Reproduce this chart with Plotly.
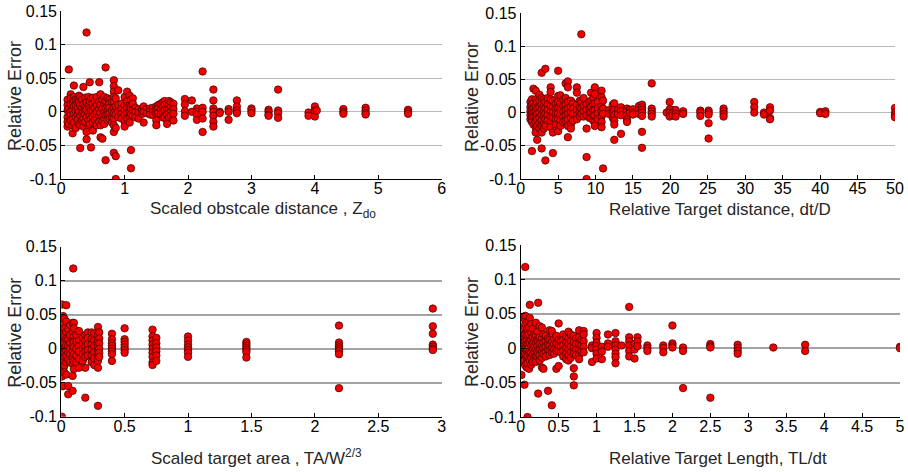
import plotly.graph_objects as go

# Panel 1: scaled obstacle distance Zdo -> relative error (values read per x column)
zdo_x = [0.10, 0.12, 0.15, 0.18, 0.20, 0.23, 0.26, 0.28, 0.30, 0.33, 0.35, 0.38, 0.40, 0.43, 0.45,
         0.47, 0.50, 0.53, 0.56, 0.60, 0.62, 0.65, 0.68, 0.70, 0.73, 0.76, 0.80, 0.83, 0.86, 0.90,
         0.95, 1.00, 1.04, 1.08, 1.10, 1.13, 1.17, 1.22, 1.28, 1.30, 1.35, 1.40, 1.45, 1.50, 1.53,
         1.57, 1.60, 1.63, 1.67, 1.70, 1.73, 1.77, 1.95, 2.06, 2.14, 2.23, 2.40, 2.50, 2.64, 2.77,
         3.00, 3.27, 3.42, 3.90, 4.00, 4.03, 4.45, 4.80, 5.47]
zdo_err = [[0.018, 0.010, 0.002, -0.008, -0.015, -0.022], [0.063, 0.005, -0.018],
           [0.026, 0.020, 0.012, 0.0, -0.005, -0.012], [0.015, 0.004, -0.010, -0.020, -0.032],
           [0.039, 0.022, 0.016, 0.008, -0.003, -0.016], [0.018, 0.010, 0.001, -0.008, -0.024],
           [0.020, 0.013, 0.005, -0.004, -0.012], [0.024, 0.015, 0.0, -0.018],
           [0.022, 0.010, -0.006, -0.020, -0.054], [0.018, 0.006, -0.002, -0.012],
           [0.037, 0.011, 0.0, -0.010, -0.022], [0.021, 0.008, 0.002, -0.004, -0.015],
           [0.118, 0.014, 0.003, -0.008, -0.030, -0.041], [0.022, 0.010, -0.002, -0.012, -0.020],
           [0.044, 0.016, 0.005, -0.006, -0.018], [0.020, 0.002, -0.010, -0.053],
           [0.021, 0.012, 0.001, -0.007, -0.016, -0.028], [0.016, 0.006, -0.004, -0.012],
           [0.022, 0.010, -0.001, -0.009, -0.020], [0.044, 0.015, 0.004, -0.006, -0.015],
           [0.026, 0.010, -0.002, -0.020, -0.038], [0.019, 0.005, -0.008, -0.014, -0.040],
           [0.022, 0.012, 0.0, -0.010, -0.018], [0.066, 0.016, 0.006, -0.005, -0.072],
           [0.020, 0.008, -0.004, -0.012], [0.018, 0.012, 0.006, -0.003, -0.010],
           [0.015, 0.002, -0.008, -0.016],
           [0.047, 0.038, 0.030, 0.022, 0.014, 0.006, -0.002, -0.010, -0.020, -0.030, -0.061],
           [0.020, 0.008, -0.004, -0.024, -0.066, -0.100], [0.032, 0.010, 0.0, -0.008],
           [0.012, 0.004, -0.003, -0.010], [0.022, 0.009, 0.002, -0.005, -0.014, -0.022],
           [0.030, 0.016, 0.006, -0.002, -0.010], [0.024, 0.010, 0.0, -0.007, -0.016],
           [0.018, 0.008, 0.004, -0.004, -0.057, -0.084], [0.020, 0.012, 0.002, -0.006],
           [0.006, 0.0, -0.008], [0.004, -0.002, -0.010], [0.005, 0.002, -0.003],
           [0.008, 0.0, -0.016], [0.004, -0.002], [0.005, 0.001, -0.004], [0.006, 0.0, -0.005],
           [0.008, 0.003, -0.003, -0.013, -0.020], [0.010, 0.005, -0.002], [0.012, 0.004, -0.004],
           [0.014, 0.007, 0.0, -0.008], [0.016, 0.010, 0.002, -0.006, -0.009],
           [0.012, 0.004, -0.003, -0.012, -0.018], [0.016, 0.010, 0.004, -0.002, -0.008],
           [0.014, 0.006, 0.0, -0.006], [0.012, 0.004, -0.003, -0.013],
           [0.019, 0.011, 0.001, -0.006], [0.017, 0.0], [0.005, 0.0, -0.004, -0.012],
           [0.060, 0.006, 0.0, -0.010, -0.030], [0.033, 0.017, 0.005, 0.0, -0.006, -0.015, -0.022],
           [0.0, -0.002], [0.004, 0.0, -0.012], [0.017, 0.008, 0.002, -0.002],
           [0.005, 0.002, -0.002], [0.003, 0.0, -0.004, -0.006], [0.033, 0.002, -0.002, -0.009],
           [-0.001, -0.006], [0.008, 0.002, 0.0, -0.007], [0.002], [0.004, 0.0, -0.003],
           [0.006, 0.002, -0.002, -0.004], [0.003, 0.0, -0.003]]

# Panel 2: relative target distance dt/D
dtd_x = [1.3, 1.5, 1.7, 2.0, 2.2, 2.5, 2.8, 3.1, 3.3, 3.6, 4.0, 4.3, 4.7, 5.0, 5.3, 5.7, 6.0, 6.3,
         6.7, 7.0, 7.5, 7.9, 8.1, 8.4, 8.8, 9.2, 9.4, 9.7, 9.9, 10.3, 10.8, 11.0, 11.8, 12.3, 12.5,
         13.0, 13.4, 14.2, 14.6, 15.0, 15.8, 16.2, 17.5, 19.5, 19.9, 20.3, 20.7, 21.7, 24.0, 25.1,
         27.1, 31.2, 32.5, 33.3, 40.0, 40.7, 50.0]
dtd_err = [[0.016, 0.008, 0.002, -0.004, -0.010], [0.020, 0.012, 0.004, -0.002, -0.008, -0.014, -0.058],
           [0.036, 0.014, 0.006, 0.0, -0.006, -0.018],
           [0.033, 0.020, 0.010, 0.002, -0.006, -0.014, -0.022, -0.030],
           [0.016, 0.006, -0.002, -0.010, -0.020, -0.041],
           [0.027, 0.018, 0.008, 0.0, -0.008, -0.016, -0.024],
           [0.060, 0.022, 0.012, 0.004, -0.004, -0.012, -0.020, -0.030, -0.054],
           [0.020, 0.010, 0.002, -0.006, -0.016, -0.024],
           [0.066, 0.016, 0.006, -0.002, -0.010, -0.020, -0.072],
           [0.022, 0.012, 0.004, -0.004, -0.012],
           [0.038, 0.031, 0.020, 0.010, 0.002, -0.006, -0.014, -0.022],
           [0.018, 0.008, 0.0, -0.008, -0.030, -0.061], [0.014, 0.006, -0.002, -0.010, -0.018],
           [0.063, 0.025, 0.016, 0.006, -0.002, -0.010, -0.028],
           [0.026, 0.014, 0.004, -0.004, -0.012, -0.020], [0.020, 0.010, 0.002, -0.006, -0.014],
           [0.044, 0.022, 0.012, 0.004, -0.004, -0.012],
           [0.047, 0.038, 0.016, 0.006, -0.002, -0.010, -0.020, -0.037],
           [0.018, 0.008, 0.0, -0.008, -0.018, -0.024], [0.014, 0.006, -0.002, -0.012],
           [0.038, 0.030, 0.012, 0.004, -0.004, -0.010], [0.018, 0.008, 0.0, -0.006],
           [0.118, 0.016, 0.006, -0.002], [0.022, 0.010, 0.002, -0.006],
           [0.012, 0.004, -0.004, -0.024, -0.067, -0.100], [0.016, 0.006, -0.002, -0.008],
           [0.030, 0.018, 0.008, 0.0, -0.008], [0.022, 0.012, 0.004, -0.004, -0.012],
           [0.038, 0.028, 0.014, 0.004, -0.004, -0.014, -0.020], [0.016, 0.006, -0.002, -0.010],
           [0.033, 0.023, 0.010, 0.002, -0.006, -0.014, -0.022], [0.018, 0.006, -0.002, -0.084],
           [0.004, -0.002], [0.012, 0.004, 0.0, -0.004, -0.008],
           [0.014, 0.004, -0.004, -0.012, -0.018, -0.041], [0.004, -0.002],
           [0.008, 0.002, -0.004, -0.032], [0.006, 0.002, -0.004, -0.010, -0.014], [0.004, 0.0],
           [0.005, 0.0, -0.003], [0.010, 0.004, -0.002],
           [0.012, 0.008, 0.004, 0.0, -0.005, -0.029, -0.053], [0.044, 0.006, 0.002, -0.002, -0.006],
           [0.0], [0.016, 0.005, 0.0, -0.006], [0.004, 0.0, -0.004], [0.004, -0.002, -0.006],
           [0.002, -0.002], [0.003, 0.0, -0.005], [0.003, 0.0, -0.003, -0.016, -0.039],
           [0.006, 0.002, -0.002, -0.006], [0.016, 0.008, 0.0], [0.0, -0.003],
           [0.008, 0.003, -0.008, -0.010], [0.001, -0.001], [0.002, -0.002],
           [0.007, 0.0, -0.004, -0.007]]

# Panel 3: scaled target area TA/W^(2/3)
ta_x = [0.005, 0.015, 0.025, 0.04, 0.055, 0.07, 0.09, 0.095, 0.10, 0.12, 0.14, 0.17, 0.19, 0.21,
        0.24, 0.26, 0.29, 0.30, 0.40, 0.50, 0.72, 0.75, 1.00, 1.46, 2.19, 2.93]
ta_err = [[0.065, 0.045, 0.030, 0.020, 0.010, 0.003, -0.005, -0.015, -0.025, -0.041, -0.055, -0.100],
          [0.048, 0.035, 0.022, 0.012, 0.005, 0.0, -0.008, -0.018, -0.030, -0.055],
          [0.044, 0.030, 0.018, 0.008, 0.0, -0.006, -0.012, -0.025, -0.035],
          [0.064, 0.040, 0.025, 0.015, 0.005, -0.003, -0.010, -0.020, -0.038],
          [0.028, 0.015, 0.004, -0.006, -0.016, -0.055, -0.067],
          [0.035, 0.020, 0.008, 0.0, -0.008, -0.020],
          [0.038, 0.025, 0.014, 0.004, -0.004, -0.012, -0.022, -0.040, -0.062], [0.118],
          [0.038, 0.030, 0.018, 0.010, 0.002, -0.008, -0.018, -0.030],
          [0.020, 0.010, 0.0, -0.010, -0.020], [0.026, 0.012, 0.004, -0.004, -0.015, -0.028],
          [0.016, 0.008, 0.0, -0.008, -0.018],
          [0.020, 0.012, 0.004, -0.004, -0.012, -0.028, -0.072],
          [0.024, 0.016, 0.006, -0.002, -0.010], [0.024, 0.014, 0.006, -0.002, -0.010, -0.020],
          [0.022, 0.012, 0.004, -0.005, -0.014, -0.024],
          [0.032, 0.020, 0.012, 0.005, -0.002, -0.010, -0.018, -0.028, -0.084],
          [0.024, 0.015, 0.008, 0.0, -0.006, -0.012],
          [0.022, 0.014, 0.008, 0.004, 0.0, -0.004, -0.008, -0.018],
          [0.030, 0.014, 0.010, 0.006, 0.002, -0.002, -0.006],
          [0.028, 0.018, 0.012, 0.006, 0.0, -0.006, -0.012, -0.020, -0.024],
          [0.016, 0.008, 0.002, -0.004, -0.010, -0.018],
          [0.018, 0.012, 0.006, 0.002, -0.002, -0.006, -0.012],
          [0.010, 0.007, 0.004, 0.001, -0.002, -0.005, -0.013],
          [0.034, 0.009, 0.005, 0.002, -0.001, -0.004, -0.008, -0.058],
          [0.059, 0.033, 0.022, 0.006, 0.003, 0.0, -0.002]]

# Panel 4: relative target length TL/dt
tl_x = [0.01, 0.03, 0.05, 0.06, 0.08, 0.09, 0.11, 0.12, 0.14, 0.16, 0.18, 0.20, 0.22, 0.23, 0.25,
        0.28, 0.30, 0.33, 0.36, 0.38, 0.41, 0.44, 0.47, 0.50, 0.53, 0.56, 0.60, 0.63, 0.66, 0.70,
        0.73, 0.77, 0.80, 0.83, 0.94, 1.00, 1.07, 1.15, 1.25, 1.33, 1.43, 1.50, 1.54, 1.67, 1.88,
        2.00, 2.14, 2.50, 2.86, 3.33, 3.75, 5.00]
tl_err = [[0.004, 0.001, -0.002, -0.008, -0.039], [0.045, 0.020, 0.010, 0.002, -0.005, -0.012, -0.020],
          [0.043, 0.030, 0.015, 0.006, -0.003, -0.010, -0.018, -0.053],
          [0.118, 0.047, 0.035, 0.020, 0.010, 0.0, -0.008, -0.025],
          [0.038, 0.025, 0.012, 0.004, -0.004, -0.014, -0.028],
          [0.028, 0.018, 0.006, -0.002, -0.012, -0.022, -0.100],
          [0.040, 0.030, 0.020, 0.010, 0.002, -0.006, -0.016, -0.030],
          [0.063, 0.044, 0.008, -0.004, -0.018],
          [0.035, 0.022, 0.012, 0.003, -0.006, -0.014, -0.024],
          [0.028, 0.016, 0.008, 0.0, -0.009, -0.020], [0.020, 0.010, 0.002, -0.006, -0.014],
          [0.037, 0.018, 0.008, -0.002, -0.012, -0.020], [0.024, 0.012, 0.004, -0.004, -0.012],
          [0.066, 0.010, -0.008, -0.066], [0.032, 0.016, 0.006, -0.003, -0.010, -0.018],
          [0.030, 0.014, 0.004, -0.005, -0.014, -0.028], [0.020, 0.008, 0.0, -0.008, -0.030],
          [0.018, 0.010, 0.002, -0.006, -0.012], [0.014, 0.006, -0.002, -0.062],
          [0.026, 0.012, 0.004, -0.004, -0.010], [0.025, 0.010, 0.0, -0.006, -0.083],
          [0.014, 0.006, -0.002, -0.008], [0.018, 0.006, -0.004, -0.030],
          [0.036, 0.012, 0.004, -0.004, -0.026], [0.010, 0.002, -0.006],
          [0.020, 0.012, 0.004, -0.004, -0.012], [0.016, 0.008, 0.0, -0.008, -0.016],
          [0.024, 0.014, 0.006, -0.002, -0.010, -0.018], [0.020, 0.010, 0.002, -0.006, -0.014],
          [0.018, 0.008, 0.0, -0.008, -0.029, -0.041, -0.054], [0.014, 0.006, -0.002, -0.010],
          [0.026, 0.016, 0.006, -0.002, -0.010, -0.016], [0.012, 0.004, -0.004],
          [0.025, 0.020, 0.010, 0.002, -0.006], [0.004, 0.0, -0.020],
          [0.022, 0.015, 0.008, 0.003, -0.002, -0.008, -0.015], [0.002, -0.005, -0.016],
          [0.020, 0.007, 0.002], [0.022, 0.010, 0.004, -0.002, -0.008, -0.013, -0.022], [0.004],
          [0.060, 0.016, 0.010, 0.004, -0.004, -0.012], [0.006, -0.002, -0.015],
          [0.016, 0.010, 0.003], [0.004, 0.0, -0.004], [0.004, 0.0, -0.006],
          [0.033, 0.007, 0.004, 0.001], [0.001, -0.004, -0.058], [0.006, 0.003, 0.001, -0.072],
          [0.005, 0.0, -0.004, -0.008], [0.001], [0.005, -0.004], [0.002, 0.0]]

y_ticks = [-0.1, -0.05, 0, 0.05, 0.1, 0.15]
y_labels = ["-0.1", "-0.05", "0", "0.05", "0.1", "0.15"]


def expand(cols, vals):
    xs, ys = [], []
    for c, v in zip(cols, vals):
        xs += [c] * len(v)
        ys += v
    return xs, ys


W, H = 908, 472
FONT = "Liberation Sans, Arial, sans-serif"

# (x data, y data, x range, x dtick, px left, px right, px top, px bottom, grid color, grid width, title, title pos)
panels = [
    (zdo_x, zdo_err, [0, 6], 1, 61.2, 441.7, 11, 179, "#b9b9b9", 1.2,
     "Scaled obstcale distance , Z<sub>do</sub>", 263, 210),
    (dtd_x, dtd_err, [0, 50], 5, 520.7, 895, 13, 179, "#b9b9b9", 1.2,
     "Relative Target distance, dt/D", 720, 210),
    (ta_x, ta_err, [0, 3], 0.5, 61.2, 441.7, 246.7, 416.7, "#a3a3a3", 2,
     "Scaled target area , TA/W<sup>2/3</sup>", 256, 457),
    (tl_x, tl_err, [0, 5], 0.5, 520.7, 900, 245, 417, "#a3a3a3", 2,
     "Relative Target Length, TL/dt", 718, 458),
]

fig = go.Figure()
annotations = []
for i, (cx, cv, xr, dt, l, r, t, b, gc, gw, title, tx, ty) in enumerate(panels, start=1):
    xs, ys = expand(cx, cv)
    sfx = "" if i == 1 else str(i)
    fig.add_trace(go.Scatter(
        x=xs, y=ys, mode="markers", xaxis="x" + sfx, yaxis="y" + sfx,
        marker=dict(size=7.5, color="#f00000", line=dict(color="#3c0000", width=0.7)),
        showlegend=False, hoverinfo="skip"))
    fig.layout["xaxis" + sfx] = dict(
        domain=[l / W, r / W], anchor="y" + sfx, range=xr, dtick=dt, tick0=0, automargin=False,
        showgrid=False, zeroline=False, showline=True, linecolor="black", linewidth=1,
        ticks="inside", ticklen=4, tickcolor="black", ticklabelstandoff=-5,
        tickfont=dict(family=FONT, size=16, color="black"))
    fig.layout["yaxis" + sfx] = dict(
        domain=[1 - b / H, 1 - t / H], anchor="x" + sfx, range=[-0.1, 0.15], automargin=False,
        tickvals=y_ticks, ticktext=y_labels, showgrid=True, gridcolor=gc, gridwidth=gw,
        zeroline=False, showline=True, linecolor="black", linewidth=1,
        ticks="inside", ticklen=4, tickcolor="black",
        tickfont=dict(family=FONT, size=16, color="black"))
    annotations.append(dict(text=title, x=tx / W, y=1 - ty / H, xref="paper", yref="paper",
                            showarrow=False, font=dict(family=FONT, size=17, color="#262626"),
                            xanchor="center", yanchor="middle"))
    annotations.append(dict(text="Relative Error", x=(15 if l < 100 else 472) / W,
                            y=1 - ((t + b) / 2 + 1) / H, xref="paper", yref="paper",
                            showarrow=False, textangle=-90,
                            font=dict(family=FONT, size=18, color="#262626"),
                            xanchor="center", yanchor="middle"))

fig.update_layout(width=W, height=H, margin=dict(l=0, r=0, t=0, b=0),
                  paper_bgcolor="white", plot_bgcolor="white", annotations=annotations)
# drop the page's default 8px body margin so the figure fills the window exactly
fig.write_html("out.html", config={"displayModeBar": False},
               post_script="document.body.style.margin='0';document.body.style.overflow='hidden';")
